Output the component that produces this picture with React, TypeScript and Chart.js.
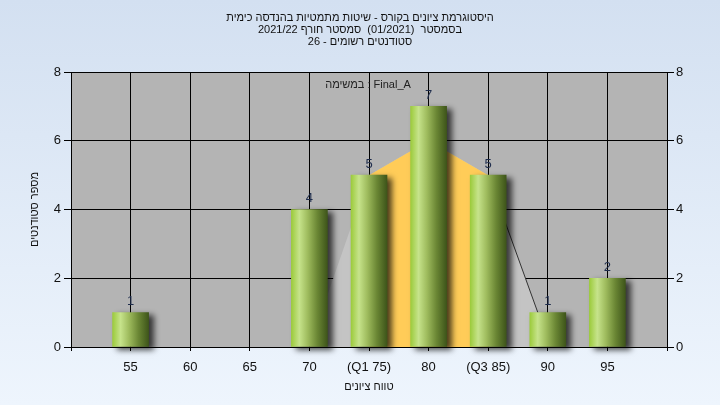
import React, { useEffect, useRef } from 'react';
import { Chart, registerables } from 'chart.js';
Chart.register(...registerables);

const titleLines = [
  'היסטוגרמת ציונים בקורס - שיטות מתמטיות בהנדסה כימית',
  'בסמסטר  (01/2021)  סמסטר חורף 2021/22',
  'סטודנטים רשומים - 26',
];
const grades = [55, 60, 65, 70, 75, 80, 85, 90, 95];
const counts = [1, 0, 0, 4, 5, 7, 5, 1, 2];
const gradeLabels = ['55', '60', '65', '70', '(Q1 75)', '80', '(Q3 85)', '90', '95'];
const curveX = [70, 75, 80, 85, 90];
const curveY = [0, 5, 6, 5, 0.2];
const iqrX = [75, 80, 85];
const iqrY = [5, 6, 5];
const legendText = 'Final_A : במשימה';
const xTitle = 'טווח ציונים';
const yTitle = 'מספר סטודנטים';
const yTicks = [0, 2, 4, 6, 8];

const FONT = "'Liberation Sans', Arial, sans-serif";

export default function App() {
  const ref = useRef<HTMLCanvasElement>(null);
  useEffect(() => {
    document.body.style.margin = '0';
    const canvas = ref.current!;
    const plotBg = {
      id: 'plotBg',
      beforeDraw(chart: any) {
        const { ctx, chartArea: a } = chart;
        ctx.save();
        ctx.fillStyle = '#b4b4b4';
        ctx.fillRect(a.left, a.top, a.right - a.left, a.bottom - a.top);
        ctx.restore();
      },
    };
    const shadow = {
      id: 'barShadow',
      beforeDatasetDraw(chart: any, args: any) {
        if (args.index !== 0) return;
        const ctx = chart.ctx;
        ctx.save();
        ctx.shadowColor = 'rgba(0,0,0,0.7)';
        ctx.shadowBlur = 6;
        ctx.shadowOffsetX = 5;
        ctx.shadowOffsetY = 3;
      },
      afterDatasetDraw(chart: any, args: any) {
        if (args.index !== 0) return;
        chart.ctx.restore();
      },
    };
    const labels = {
      id: 'valueLabels',
      afterDatasetsDraw(chart: any) {
        const ctx = chart.ctx;
        const meta = chart.getDatasetMeta(0);
        ctx.save();
        ctx.font = `13px ${FONT}`;
        ctx.fillStyle = '#1e2c4c';
        ctx.textAlign = 'center';
        ctx.textBaseline = 'middle';
        meta.data.forEach((el: any, i: number) => {
          if (!counts[i]) return;
          ctx.fillText(String(counts[i]), el.x, el.y - 11);
        });
        ctx.font = `11px ${FONT}`;
        ctx.fillStyle = '#222';
        const a = chart.chartArea;
        ctx.fillText(legendText, (a.left + a.right) / 2 - 1, 85);
        ctx.restore();
      },
    };

    const barGradient = (c: any) => {
      const chart = c.chart;
      const xs = chart.scales && chart.scales.x;
      if (!xs || !c.raw) return '#9fc84a';
      const cx = xs.getPixelForValue(c.raw.x);
      if (!Number.isFinite(cx)) return '#9fc84a';
      const g = chart.ctx.createLinearGradient(cx - 18, 0, cx + 18, 0);
      g.addColorStop(0, '#9ccb3c');
      g.addColorStop(0.22, '#c6e38b');
      g.addColorStop(0.45, '#9fbc5e');
      g.addColorStop(0.72, '#6a8634');
      g.addColorStop(1, '#3e551a');
      return g;
    };

    const tickFont = { family: FONT, size: 13 };
    const titleFont = { family: FONT, size: 11, lineHeight: 12 / 11 };
    const chart = new Chart(canvas, {
      type: 'bar',
      data: {
        datasets: [
          {
            type: 'bar',
            data: grades.map((g, i) => ({ x: g, y: counts[i] || null })),
            backgroundColor: barGradient,
            borderWidth: 0,
            barThickness: 36,
            order: 0,
            clip: false,
          } as any,
          {
            type: 'line',
            data: iqrX.map((x, i) => ({ x, y: iqrY[i] })),
            backgroundColor: '#ffcc58',
            borderWidth: 0,
            borderColor: 'rgba(0,0,0,0)',
            pointRadius: 0,
            fill: 'origin',
            tension: 0,
            order: 1,
          } as any,
          {
            type: 'line',
            data: curveX.map((x, i) => ({ x, y: curveY[i] })),
            backgroundColor: '#c4c4c4',
            borderWidth: 1,
            borderColor: 'rgba(0,0,0,0)',
            segment: {
              borderColor: (s: any) => (s.p0.parsed.x === 85 ? '#333333' : 'rgba(0,0,0,0)'),
            },
            pointRadius: 0,
            fill: 'origin',
            tension: 0,
            order: 2,
          } as any,
        ],
      },
      options: {
        responsive: false,
        animation: false,
        layout: { padding: 0 },
        plugins: {
          legend: { display: false },
          tooltip: { enabled: false },
          title: {
            display: true,
            text: titleLines,
            color: '#111',
            font: { ...titleFont, weight: 'normal' },
            padding: { top: 12, bottom: 24 },
          },
        },
        scales: {
          x: {
            type: 'linear',
            min: 50,
            max: 100,
            offset: false,
            afterBuildTicks: (s: any) => {
              const t = [];
              for (let v = 50; v <= 100; v += 5) t.push({ value: v });
              s.ticks = t;
            },
            afterFit: (s: any) => { s.height = 58; },
            grid: { color: '#000', offset: false, tickLength: 4, lineWidth: 1 },
            border: { color: '#000' },
            ticks: {
              color: '#111',
              font: tickFont,
              padding: 9,
              maxRotation: 0,
              autoSkip: false,
              callback: (v: any) => {
                const i = grades.indexOf(Number(v));
                return i >= 0 ? gradeLabels[i] : '';
              },
            },
            title: {
              display: true,
              text: xTitle,
              color: '#111',
              font: titleFont,
              padding: { top: 0, bottom: 12 },
            },
          },
          y: {
            position: 'left',
            min: 0,
            max: 8,
            afterBuildTicks: (s: any) => { s.ticks = yTicks.map((v) => ({ value: v })); },
            afterFit: (s: any) => { s.width = 71; },
            grid: { color: '#000', tickLength: 7 },
            border: { color: '#000' },
            ticks: { color: '#111', font: tickFont, padding: 3 },
            title: {
              display: true,
              text: yTitle,
              color: '#111',
              font: titleFont,
              padding: { top: 29, bottom: 0 },
            },
          },
          y2: {
            position: 'right',
            min: 0,
            max: 8,
            afterBuildTicks: (s: any) => { s.ticks = yTicks.map((v) => ({ value: v })); },
            afterFit: (s: any) => { s.width = 53; },
            grid: { color: '#000', tickLength: 7, drawOnChartArea: false },
            border: { color: '#000' },
            ticks: { color: '#111', font: tickFont, padding: 2 },
          },
        },
      } as any,
      plugins: [plotBg, shadow, labels],
    });
    return () => chart.destroy();
  }, []);

  return (
    <div
      style={{
        position: 'fixed',
        left: 0,
        top: 0,
        width: 720,
        height: 405,
        background: 'linear-gradient(to bottom, #d3e0f1 0%, #eef5fd 100%)',
      }}
    >
      <canvas ref={ref} width={720} height={405} style={{ direction: 'rtl', display: 'block' }} />
    </div>
  );
}
